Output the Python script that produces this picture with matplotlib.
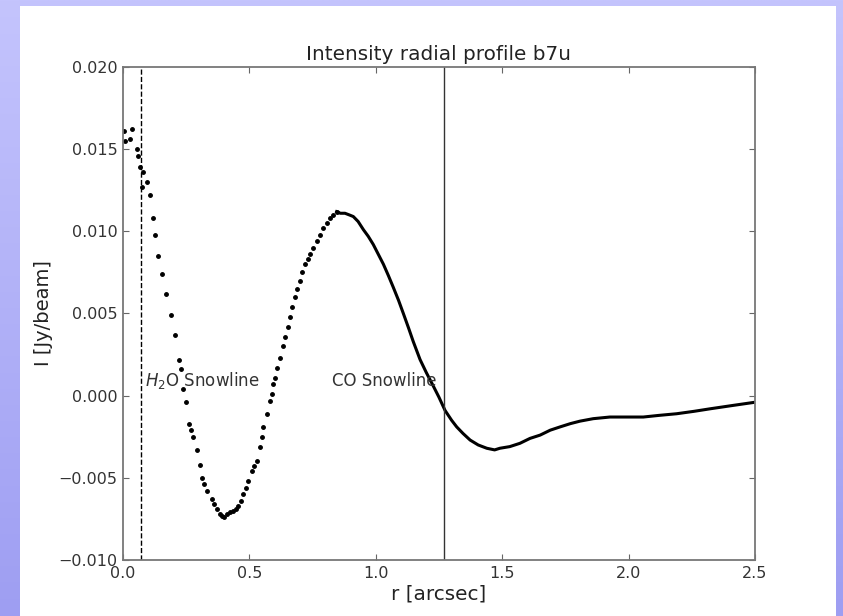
import numpy as np
import matplotlib
matplotlib.use("Agg")
import matplotlib.pyplot as plt
from matplotlib.patches import Rectangle

# sparse (dotted) part of the profile, r in arcsec, I in mJy/beam
r_dots = [0.004, 0.008, 0.028, 0.034, 0.054, 0.061, 0.067, 0.074, 0.081, 0.094,
          0.107, 0.120, 0.127, 0.140, 0.155, 0.170, 0.190, 0.205, 0.222, 0.230,
          0.236, 0.249, 0.262, 0.270, 0.278, 0.294, 0.305, 0.311, 0.321, 0.331,
          0.351, 0.361, 0.371, 0.382, 0.390, 0.400, 0.410, 0.423, 0.436, 0.446,
          0.456, 0.466, 0.476, 0.486, 0.496, 0.509, 0.519, 0.529, 0.542, 0.548,
          0.555, 0.568, 0.582, 0.588, 0.595, 0.601, 0.611, 0.621, 0.631, 0.641,
          0.651, 0.661, 0.670, 0.680, 0.690, 0.700, 0.710, 0.720, 0.730, 0.740,
          0.753, 0.766, 0.779, 0.792, 0.805, 0.819, 0.832, 0.845]
i_dots = [16.1, 15.5, 15.6, 16.2, 15.0, 14.6, 13.9, 12.7, 13.6, 13.0,
          12.2, 10.8, 9.8, 8.5, 7.4, 6.2, 4.9, 3.7, 2.2, 1.6,
          0.4, -0.4, -1.7, -2.1, -2.5, -3.3, -4.2, -5.0, -5.4, -5.8,
          -6.3, -6.6, -6.9, -7.2, -7.3, -7.4, -7.2, -7.1, -7.0, -6.9,
          -6.7, -6.4, -6.0, -5.6, -5.2, -4.6, -4.3, -4.0, -3.1, -2.5,
          -1.9, -1.1, -0.3, 0.1, 0.7, 1.1, 1.7, 2.3, 3.0, 3.6,
          4.2, 4.8, 5.4, 6.0, 6.5, 7.0, 7.5, 8.0, 8.3, 8.6,
          9.0, 9.4, 9.8, 10.2, 10.5, 10.8, 11.0, 11.2]

# dense part, drawn as a continuous line
r_line = [0.845, 0.860, 0.878, 0.895, 0.911, 0.930, 0.951, 0.970, 0.990, 1.010,
          1.030, 1.050, 1.069, 1.090, 1.109, 1.130, 1.148, 1.175, 1.200, 1.227,
          1.250, 1.274, 1.300, 1.320, 1.345, 1.373, 1.405, 1.439, 1.470, 1.491,
          1.530, 1.570, 1.610, 1.650, 1.690, 1.729, 1.770, 1.808, 1.860, 1.926,
          2.000, 2.058, 2.120, 2.190, 2.260, 2.322, 2.410, 2.500]
i_line = [11.2, 11.1, 11.1, 11.0, 10.9, 10.6, 10.1, 9.7, 9.2, 8.6,
          8.0, 7.3, 6.6, 5.8, 5.0, 4.1, 3.3, 2.2, 1.4, 0.6,
          -0.1, -0.9, -1.5, -1.9, -2.3, -2.7, -3.0, -3.2, -3.3, -3.2,
          -3.1, -2.9, -2.6, -2.4, -2.1, -1.9, -1.7, -1.55, -1.4, -1.3,
          -1.3, -1.3, -1.2, -1.1, -0.95, -0.8, -0.6, -0.4]

h2o_line = 0.07
co_line = 1.27
xticks = [0.0, 0.5, 1.0, 1.5, 2.0, 2.5]
yticks = [-0.010, -0.005, 0.000, 0.005, 0.010, 0.015, 0.020]

W, H = 843, 616
fig = plt.figure(figsize=(W / 100, H / 100), dpi=100)

# lavender slide background with a white card on it
bg = fig.add_axes([0, 0, 1, 1])
bg.axis("off")
t = np.linspace(0, 1, 256)[:, None]
top = np.array([196, 196, 253]) / 255
bot = np.array([158, 158, 242]) / 255
grad = (top * (1 - t) + bot * t)[:, None, :] * np.ones((1, 4, 1))
bg.imshow(grad, aspect="auto", extent=[0, 1, 0, 1])
bg.set_xlim(0, 1)
bg.set_ylim(0, 1)
bg.add_patch(Rectangle((20 / W, 0), (836 - 20) / W, 1 - 6 / H,
                       facecolor="white", edgecolor="none"))

ax = fig.add_axes([123 / W, 1 - 560 / H, (755 - 123) / W, (560 - 67) / H])
ax.plot(r_dots, np.array(i_dots) * 1e-3, "k.", ms=5)
ax.plot(r_line, np.array(i_line) * 1e-3, "k-", lw=2.2)
ax.axvline(h2o_line, color="k", ls="--", lw=1)
ax.axvline(co_line, color="#333333", lw=1)

ax.text(0.087, 0.0009, "$H_2$O Snowline", fontsize=12, color="#333333", va="center")
ax.text(0.827, 0.0009, "CO Snowline", fontsize=12, color="#333333", va="center")

ax.set_xlim(0, 2.5)
ax.set_ylim(-0.010, 0.020)
ax.set_xticks(xticks)
ax.set_yticks(yticks)
ax.set_xticklabels(["%.1f" % v for v in xticks])
ax.set_yticklabels([("%.3f" % v).replace("-", "\u2212") for v in yticks])
ax.tick_params(direction="in", top=True, right=True, length=4, labelsize=11.5,
               colors="#666666", labelcolor="#333333", pad=4)
for s in ax.spines.values():
    s.set_color("#777777")
    s.set_linewidth(1.3)

ax.set_title("Intensity radial profile b7u", fontsize=14.4, color="#222222", pad=5)
ax.set_xlabel("r [arcsec]", fontsize=14.4, color="#222222", labelpad=3)
ax.set_ylabel("I [Jy/beam]", fontsize=14, color="#222222")

fig.savefig("out.png", dpi=100)
